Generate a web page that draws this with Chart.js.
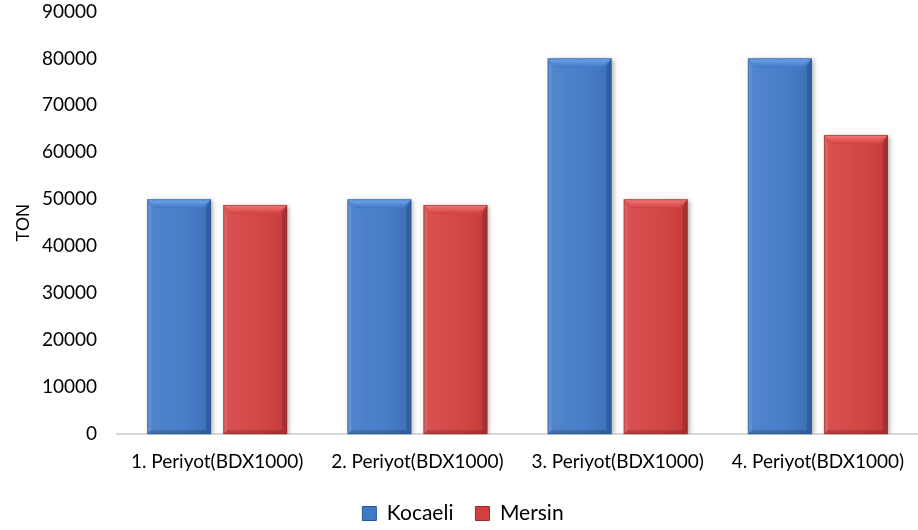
<!DOCTYPE html>
<html>
<head>
<meta charset="utf-8">
<script src="https://cdn.jsdelivr.net/npm/chart.js@4.4.1/dist/chart.umd.min.js"></script>
<style>
  html, body { margin: 0; padding: 0; background: #ffffff; }
  #wrap { width: 918px; height: 530px; }
</style>
</head>
<body>
<div id="wrap"><canvas id="c" width="918" height="530"></canvas></div>
<script>
// Tonnage per period, by site
const categories = ['1. Periyot(BDX1000)', '2. Periyot(BDX1000)', '3. Periyot(BDX1000)', '4. Periyot(BDX1000)'];
const kocaeli = [50000, 50000, 80000, 80000];
const mersin = [48800, 48800, 50000, 63700];
const seriesNames = ['Kocaeli', 'Mersin'];
const yTicks = [0, 10000, 20000, 30000, 40000, 50000, 60000, 70000, 80000, 90000];

const palette = {
  Kocaeli: { base: '#3f78c6', light: '#74a6ea', dark: '#2a5793' },
  Mersin:  { base: '#d23f3e', light: '#f27a7a', dark: '#9c2a2a' }
};

// Soft drop shadow under bars plus a bevelled face drawn over each bar
const bevelPlugin = {
  id: 'bevel',
  beforeDatasetDraw(chart) {
    const ctx = chart.ctx;
    ctx.save();
    ctx.shadowColor = 'rgba(0,0,0,0.35)';
    ctx.shadowBlur = 5;
    ctx.shadowOffsetX = 2;
    ctx.shadowOffsetY = 1;
  },
  afterDatasetDraw(chart, args) {
    const ctx = chart.ctx;
    ctx.restore();
    const ds = chart.data.datasets[args.index];
    const col = palette[ds.label];
    args.meta.data.forEach(bar => {
      const p = bar.getProps(['x', 'y', 'base', 'width'], true);
      const l = p.x - p.width / 2, r = p.x + p.width / 2;
      const t = p.y, b = p.base;
      const bw = 9;
      ctx.save();
      // horizontal shading across the face
      const g = ctx.createLinearGradient(l, 0, r, 0);
      g.addColorStop(0, 'rgba(255,255,255,0.10)');
      g.addColorStop(0.5, 'rgba(255,255,255,0.05)');
      g.addColorStop(1, 'rgba(0,0,0,0.08)');
      ctx.fillStyle = g;
      ctx.fillRect(l, t, r - l, b - t);
      // top bevel
      ctx.beginPath();
      ctx.moveTo(l, t); ctx.lineTo(r, t); ctx.lineTo(r - bw, t + bw); ctx.lineTo(l + bw, t + bw); ctx.closePath();
      const gt = ctx.createLinearGradient(0, t, 0, t + bw);
      gt.addColorStop(0, col.light);
      gt.addColorStop(1, col.base);
      ctx.fillStyle = gt;
      ctx.fill();
      // left bevel
      ctx.beginPath();
      ctx.moveTo(l, t); ctx.lineTo(l + 4, t + bw); ctx.lineTo(l + 4, b - 4); ctx.lineTo(l, b); ctx.closePath();
      ctx.fillStyle = 'rgba(255,255,255,0.10)';
      ctx.fill();
      // right bevel
      ctx.beginPath();
      ctx.moveTo(r, t); ctx.lineTo(r - 5, t + bw); ctx.lineTo(r - 5, b - 4); ctx.lineTo(r, b); ctx.closePath();
      ctx.fillStyle = 'rgba(0,0,0,0.16)';
      ctx.fill();
      // bottom bevel
      ctx.beginPath();
      ctx.moveTo(l, b); ctx.lineTo(r, b); ctx.lineTo(r - 5, b - 4); ctx.lineTo(l + 4, b - 4); ctx.closePath();
      ctx.fillStyle = 'rgba(0,0,0,0.18)';
      ctx.fill();
      // outline
      ctx.strokeStyle = col.dark;
      ctx.globalAlpha = 0.55;
      ctx.lineWidth = 1;
      ctx.strokeRect(l + 0.5, t + 0.5, r - l - 1, b - t - 1);
      ctx.restore();
    });
  }
};

new Chart(document.getElementById('c'), {
  type: 'bar',
  data: {
    labels: categories,
    datasets: [
      { label: seriesNames[0], data: kocaeli, backgroundColor: palette.Kocaeli.base, borderWidth: 0 },
      { label: seriesNames[1], data: mersin, backgroundColor: palette.Mersin.base, borderWidth: 0 }
    ]
  },
  options: {
    responsive: false,
    animation: false,
    devicePixelRatio: 1,
    layout: { padding: { top: 0, right: 0, bottom: -4, left: 8 } },
    datasets: { bar: { categoryPercentage: 0.76, barPercentage: 0.84 } },
    plugins: {
      legend: {
        position: 'bottom',
        labels: {
          font: { family: 'Lato', size: 21 },
          color: '#000000',
          boxWidth: 14,
          boxHeight: 14,
          padding: 22,
          generateLabels(chart) {
            return chart.data.datasets.map((ds, i) => ({
              text: ds.label,
              fillStyle: ds.backgroundColor,
              strokeStyle: palette[ds.label].dark,
              lineWidth: 1,
              datasetIndex: i,
              fontColor: '#000000'
            }));
          }
        }
      },
      tooltip: { enabled: false }
    },
    scales: {
      x: {
        grid: { display: false },
        border: { display: true, color: '#d9d9d9', width: 2 },
        ticks: { font: { family: 'Lato', size: 19 }, color: '#000000', padding: 8, maxRotation: 0 }
      },
      y: {
        min: 0,
        max: 90000,
        afterBuildTicks(axis) { axis.ticks = yTicks.map(v => ({ value: v })); },
        afterFit(axis) { axis.width = 109; },
        grid: { display: false, tickLength: 20 },
        border: { display: false },
        ticks: { font: { family: 'Lato', size: 19 }, color: '#000000', padding: 0, callback: v => String(v) },
        title: { display: true, text: 'TON', font: { family: 'Liberation Sans', size: 18 }, color: '#000000', padding: 5 }
      }
    }
  },
  plugins: [bevelPlugin]
});
</script>
</body>
</html>
